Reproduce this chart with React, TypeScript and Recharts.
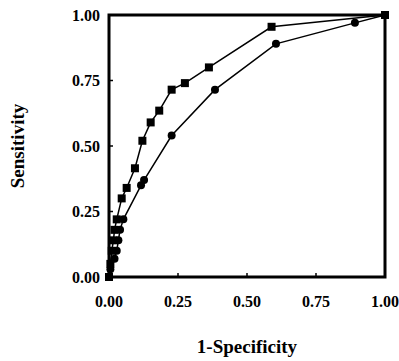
import { ScatterChart, Scatter, XAxis, YAxis, ReferenceArea, Label } from "recharts"

// test A (squares)
const fprA = [0, 0.005, 0.01, 0.016, 0.02, 0.028, 0.046, 0.064, 0.094, 0.121, 0.151, 0.182, 0.227, 0.275, 0.362, 0.589, 1]
const sensA = [0, 0.05, 0.1, 0.14, 0.18, 0.22, 0.3, 0.34, 0.415, 0.52, 0.59, 0.635, 0.715, 0.74, 0.8, 0.955, 1]

// test B (circles)
const fprB = [0, 0.005, 0.02, 0.028, 0.034, 0.04, 0.052, 0.116, 0.127, 0.227, 0.384, 0.605, 0.891, 1]
const sensB = [0, 0.03, 0.07, 0.1, 0.14, 0.18, 0.22, 0.35, 0.37, 0.54, 0.715, 0.89, 0.97, 1]

const ticks = [0, 0.25, 0.5, 0.75, 1]

const dataA = fprA.map((x, i) => ({ x, y: sensA[i] }))
const dataB = fprB.map((x, i) => ({ x, y: sensB[i] }))

const font = "'Liberation Serif', 'Times New Roman', serif"
const tickStyle = { fill: "#000", fontSize: 16, fontWeight: 700, fontFamily: font }

const Square = (p: any) => <rect x={p.cx - 4} y={p.cy - 4} width={8} height={8} fill="#000" />
const Dot = (p: any) => <circle cx={p.cx} cy={p.cy} r={4} fill="#000" />

export default function App() {
  return (
    <div style={{ position: "absolute", left: 0, top: 0, width: 399, height: 361, background: "#fff" }}>
      <ScatterChart width={399} height={361} margin={{ top: 15, right: 14, left: 0, bottom: 0 }}>
        <XAxis
          type="number"
          dataKey="x"
          domain={[0, 1]}
          ticks={ticks}
          tickFormatter={(v: number) => v.toFixed(2)}
          height={84}
          axisLine={false}
          tickSize={-4}
          tickMargin={23}
          tickLine={{ stroke: "#000", strokeWidth: 1.5 }}
          tick={tickStyle}
        >
          <Label
            value="1-Specificity"
            position="insideBottom"
            offset={8}
            style={{ fill: "#000", fontSize: 19, fontWeight: 700, fontFamily: font }}
          />
        </XAxis>
        <YAxis
          type="number"
          dataKey="y"
          domain={[0, 1]}
          ticks={ticks}
          tickFormatter={(v: number) => v.toFixed(2)}
          width={109}
          axisLine={false}
          tickSize={-4}
          tickMargin={13}
          tickLine={{ stroke: "#000", strokeWidth: 1.5 }}
          tick={tickStyle}
        >
          <Label
            value="Sensitivity"
            angle={-90}
            position="insideLeft"
            offset={17}
            style={{ textAnchor: "middle", fill: "#000", fontSize: 19, fontWeight: 700, fontFamily: font }}
          />
        </YAxis>
        <ReferenceArea x1={0} x2={1} y1={0} y2={1} fill="none" stroke="#000" strokeWidth={3} ifOverflow="visible" />
        <Scatter
          data={dataB}
          line={{ stroke: "#000", strokeWidth: 1.5 }}
          lineType="joint"
          shape={Dot}
          isAnimationActive={false}
        />
        <Scatter
          data={dataA}
          line={{ stroke: "#000", strokeWidth: 1.5 }}
          lineType="joint"
          shape={Square}
          isAnimationActive={false}
        />
      </ScatterChart>
    </div>
  )
}
